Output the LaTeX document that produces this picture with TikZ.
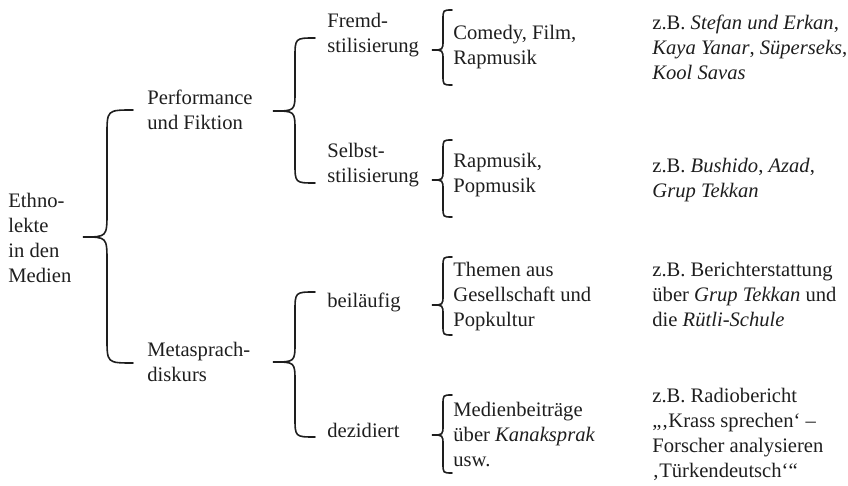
\documentclass[tikz,border=0pt]{standalone}
\usepackage{fontspec}
\setmainfont{Liberation Serif}
\definecolor{ink}{HTML}{1E1E1E}
\newcommand{\tb}[1]{\begin{tabular}[t]{@{}l@{}}#1\end{tabular}}
\newcommand{\mybrace}[7]{%
  \draw[bracestyle] (#4,#5) .. controls (#3,#5) .. (#3,#5+#7) -- (#3,#2-#7)
    .. controls (#3,#2) .. (#1,#2) .. controls (#3,#2) .. (#3,#2+#7)
    -- (#3,#6-#7) .. controls (#3,#6) .. (#4,#6);}
\begin{document}
\begin{tikzpicture}[x=0.5pt,y=-0.5pt,
  lbl/.style={anchor=base west,inner sep=0pt,text=ink,font=\fontsize{10.3}{12.5}\selectfont},
  bracestyle/.style={draw=ink,line width=0.8pt,line cap=round}]
\useasboundingbox (0,0) rectangle (848,486);
% level 0
\node[lbl] (root) at (8,208) {\tb{Ethno-\\lekte\\in den\\Medien}};
% level 1
\node[lbl] (perf) at (147,105) {\tb{Performance\\und Fiktion}};
\node[lbl] (meta) at (147,357) {\tb{Metasprach-\\diskurs}};
% level 2
\node[lbl] (fremd) at (327,28) {\tb{Fremd-\\stilisierung}};
\node[lbl] (selbst) at (327,158) {\tb{Selbst-\\stilisierung}};
\node[lbl] (beil) at (327,308) {\tb{beiläufig}};
\node[lbl] (dez) at (327,438) {\tb{dezidiert}};
% level 3
\node[lbl] (comedy) at (453,40) {\tb{Comedy, Film,\\Rapmusik}};
\node[lbl] (rap) at (453,168) {\tb{Rapmusik,\\Popmusik}};
\node[lbl] (themen) at (453,277) {\tb{Themen aus\\Gesellschaft und\\Popkultur}};
\node[lbl] (medien) at (453,417) {\tb{Medienbeiträge\\über \textit{Kanaksprak}\\usw.}};
% level 4
\node[lbl] (ex1) at (652,30) {\tb{z.B. \textit{Stefan und Erkan},\\\textit{Kaya Yanar}, \textit{Süperseks},\\\textit{Kool Savas}}};
\node[lbl] (ex2) at (652,173) {\tb{z.B. \textit{Bushido}, \textit{Azad},\\\textit{Grup Tekkan}}};
\node[lbl] (ex3) at (652,277) {\tb{z.B. Berichterstattung\\über \textit{Grup Tekkan} und\\die \textit{Rütli-Schule}}};
\node[lbl] (ex4) at (652,403) {\tb{z.B. Radiobericht\\„‚Krass sprechen‘ –\\Forscher analysieren\\‚Türkendeutsch‘“}};
% braces
\mybrace{83}{237}{107}{133}{110}{363}{25}
\mybrace{273}{111}{295}{315}{38}{183}{20}
\mybrace{273}{362}{295}{315}{292}{437}{20}
\mybrace{432}{50}{443}{452}{10}{85}{10}
\mybrace{432}{180}{443}{452}{140}{217}{10}
\mybrace{432}{305}{443}{452}{257}{335}{10}
\mybrace{432}{435}{443}{452}{395}{473}{10}
\end{tikzpicture}
\end{document}
